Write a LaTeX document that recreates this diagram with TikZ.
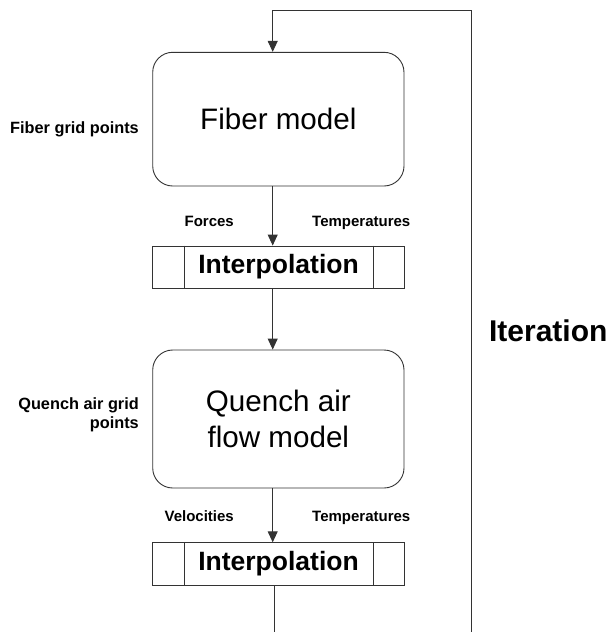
\documentclass[tikz,border=0pt]{standalone}
\usepackage{fontspec}
\setmainfont{Liberation Sans}
\usetikzlibrary{arrows.meta,calc}
\begin{document}
\begin{tikzpicture}[x=1pt,y=-1pt,
  line/.style={draw=black!80, line width=0.9pt},
  arr/.style={line, -{Triangle[length=11pt,width=10pt]}},
  model/.style={line, rounded corners=20pt, minimum width=251.3pt, align=center,
    font=\fontsize{29.6}{36}\selectfont, inner sep=0pt},
  interp/.style={line, minimum width=251.6pt, minimum height=42pt,
    font=\bfseries\fontsize{26.5}{30}\selectfont, inner sep=0pt},
  lbl/.style={font=\bfseries\fontsize{15}{18}\selectfont, inner sep=0pt},
  sidelbl/.style={font=\bfseries\fontsize{16.3}{18.5}\selectfont, inner sep=0pt},
  biglbl/.style={font=\bfseries\fontsize{30}{36}\selectfont, inner sep=0pt},
]
\useasboundingbox (0,0) rectangle (611,632);

\node[model, minimum height=133.7pt] (fiber) at (278.35,119.15) {Fiber model};
\node[model, minimum height=138pt] (quench) at (278.35,419) {Quench air\\flow model};
\node[interp] (ip1) at (278.5,267) {Interpolation};
\node[interp, minimum height=42.5pt] (ip2) at (278.5,564) {Interpolation};
\foreach \n in {ip1,ip2}{
  \draw[line] ($(\n.north west)+(32.3,0)$) -- ($(\n.south west)+(32.3,0)$);
  \draw[line] ($(\n.north east)+(-31.3,0)$) -- ($(\n.south east)+(-31.3,0)$);
}

\coordinate (ax) at (272.7,0);
\coordinate (bx) at (274.3,632);
\coordinate (tl) at (272.7,10);
\coordinate (tr) at (471.3,10);
\coordinate (br) at (471.3,632);

\draw[arr] (br) -- (tr) -- (tl) -- (fiber.north -| ax);
\draw[arr] (fiber.south -| ax) -- (ip1.north -| ax);
\draw[arr] (ip1.south -| ax) -- (quench.north -| ax);
\draw[arr] (quench.south -| ax) -- (ip2.north -| ax);
\draw[line] (ip2.south -| bx) -- (bx);

\node[sidelbl, anchor=east] (fgp) at (139,129.3) {Fiber grid points};
\node[sidelbl, anchor=east, align=right] (qgp) at (139,415) {Quench air grid\\points};
\node[lbl, anchor=base east] (forces) at (234,226.8) {Forces};
\node[lbl, anchor=base west] (temp1) at (312,226.8) {Temperatures};
\node[lbl, anchor=base east] (vel) at (234,521.5) {Velocities};
\node[lbl, anchor=base west] (temp2) at (312,521.5) {Temperatures};
\node[biglbl] (iter) at (548.3,331) {Iteration};
\end{tikzpicture}
\end{document}
